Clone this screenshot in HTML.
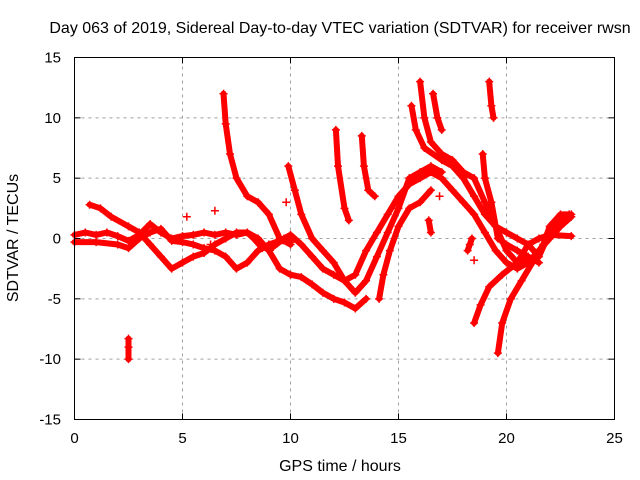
<!DOCTYPE html>
<html><head><meta charset="utf-8"><style>
body{margin:0;background:#fff}
svg{display:block;font-family:"Liberation Sans",sans-serif}
</style></head><body>
<svg id="chart" width="640" height="480" viewBox="0 0 640 480">
<rect width="640" height="480" fill="#fff"/>
<text x="340" y="33" font-size="16" text-anchor="middle">Day 063 of 2019, Sidereal Day-to-day VTEC variation (SDTVAR) for receiver rwsn</text>
<g id="grid"></g>
<g id="marks"></g>
<rect x="74.5" y="57.5" width="540" height="362" fill="none" stroke="#000" stroke-width="1"/>
<g id="ticks"></g>
<text x="340" y="471" font-size="16" text-anchor="middle">GPS time / hours</text>
<text transform="translate(18,238) rotate(-90)" font-size="16" text-anchor="middle">SDTVAR / TECUs</text>
</svg>
<script>
const xTicks=[0,5,10,15,20,25];
const yTicks=[-15,-10,-5,0,5,10,15];
const t1x=[0,0.5,1,1.5,2,2.5,3,3.5,4,4.5,5,5.5,6,6.5,7,7.5,8,8.3,8.7,9.2,9.7,10,10.5,11,11.5,12,12.5,13,13.5,14,14.5,15,15.5,16,16.5,17,17.5,18,18.5,19,19.5,20,20.5,21,21.5,22,22.5,23];
const t1y=[0.3,0.5,0.3,0.5,0.2,-0.2,0.3,1.2,0.5,0,0.2,0.3,0.5,0.3,0.5,0.3,0.5,0,-0.8,-0.7,0,0.3,-0.5,-1.5,-2.5,-3,-3.5,-3,-1,0.5,2,3.5,4.5,5,5.5,5,4,3,2,0.5,-1,-2,-2.5,-2,-1,0,1,1.8];
const t2x=[0,1,2,2.5,3,3.5,4,4.5,5,5.5,6,6.5,7,7.5,8,8.5,9,9.5,10];
const t2y=[-0.3,-0.3,-0.5,-0.8,0,0.5,0.8,-0.2,-0.3,-0.5,-0.8,-1,-1.5,-2.5,-2,-1,-0.5,-0.2,-0.3];
const t3x=[0.7,1.2,1.7,2.5,3,3.5,4,4.5,5,5.5,6,6.5,7,7.5,8,8.5,9,9.5,10,10.5,11,11.5,12,12.5,13,13.5];
const t3y=[2.8,2.5,1.8,1,0.5,-0.5,-1.5,-2.5,-2,-1.5,-1.2,-0.5,0,0.5,0.5,0,-1,-2.5,-3,-3.2,-3.8,-4.5,-5,-5.3,-5.8,-5];
const t4x=[9.9,10.2,10.5,11,11.5,12,12.5,13,13.5,14,14.5,15,15.5,16,16.5,17];
const t4y=[6,4,2,0,-1,-2,-3.5,-4.5,-3.5,-1.5,0.5,2.5,5,5.5,6,5.5];
const t5x=[6.9,7,7.2,7.5,8,8.5,9,9.5,10];
const t5y=[12,9.5,7,5,3.5,3,2,0,-0.5];
const t6x=[12.1,12.2,12.5,12.7];const t6y=[9,6,2.5,1.5];
const t7x=[13.3,13.4,13.6,13.9];const t7y=[8.5,6,4,3.5];
const t8x=[15.6,15.8,16.2,17,17.5,18,18.5,19,19.5,20,20.5,21,21.5,22,22.5,23];
const t8y=[11,9,7.5,6.5,6,5,3.5,2,1,0.5,0,-0.5,-1.5,0.5,1.5,2];
const t9x=[16,16.2,16.5,17,17.5,18,18.5,19,19.5,20,20.5,21];
const t9y=[13,10,8,7,6.5,5.5,5,3,1,-1,-2,-1.5];
const t10x=[16.6,16.8,17];const t10y=[12,10,9];
const t11x=[19.2,19.3,19.4];const t11y=[13,11,10];
const t12x=[18.9,19,19.3,19.6,20,20.5,21,21.5];const t12y=[7,5,3,0,-0.5,-1,-1.5,-2];
const t13x=[19.6,19.8,20.2,20.7,21.2,21.7,22,22.5,22.9];const t13y=[-9.5,-7,-5,-3.5,-2,-0.5,1,2,2];
const t14x=[18.5,18.8,19.2,19.8,20.5,21,21.5,22,23];const t14y=[-7,-5.5,-4,-3,-2,-0.5,0,0.3,0.2];
const t15x=[14.1,14.3,14.6,15,15.5,16,16.5];const t15y=[-5,-3,-1,1,2.5,3,4];
const c1x=[2.5,2.5,2.5];const c1y=[-8.3,-9,-10];
const c2x=[18.2,18.3,18.4];const c2y=[-1,-0.5,0];
const c3x=[16.4,16.5];const c3y=[1.5,0.5];
const isoX=[6.5,5.2,16.9,18.5,9.8,6.3];const isoY=[2.3,1.8,3.5,-1.8,3,-0.5];

const X0=74.5,X1=614.5,Y0=419.5,Y1=57.5;
const sx=v=>X0+(v-0)/25*(X1-X0);
const sy=v=>Y0-(v+15)/30*(Y0-Y1);
const NS="http://www.w3.org/2000/svg";
const grid=document.getElementById('grid'),ticks=document.getElementById('ticks'),marks=document.getElementById('marks');
function mk(tag,attrs,parent){const e=document.createElementNS(NS,tag);for(const k in attrs)e.setAttribute(k,attrs[k]);parent.appendChild(e);return e;}
xTicks.forEach(v=>{
  const x=sx(v);
  if(v>0&&v<25){const g=mk('line',{x1:x,x2:x,y1:Y0,y2:Y1,stroke:'#a0a0a0','stroke-dasharray':'3,4'},grid);
  
  }
  const a=mk('line',{x1:x,x2:x,y1:Y0,y2:Y0-6,stroke:'#000'},ticks);
  
  
  const b=mk('line',{x1:x,x2:x,y1:Y1,y2:Y1+6,stroke:'#000'},ticks);
  
  
  const t=mk('text',{x:x,y:443,'font-size':15,'text-anchor':'middle'},ticks);t.textContent=v;
  
  
});
yTicks.forEach(v=>{
  const y=sy(v);
  if(v>-15&&v<15){const g=mk('line',{x1:X0,x2:X1,y1:y,y2:y,stroke:'#a0a0a0','stroke-dasharray':'3,4'},grid);
  
  }
  const a=mk('line',{x1:X0,x2:X0+6,y1:y,y2:y,stroke:'#000'},ticks);
  
  
  const b=mk('line',{x1:X1,x2:X1-6,y1:y,y2:y,stroke:'#000'},ticks);
  
  
  const t=mk('text',{x:61,y:y+5,'font-size':15,'text-anchor':'end'},ticks);t.textContent=v;
  
  
});
const tracks=[[t1x,t1y],[t2x,t2y],[t3x,t3y],[t4x,t4y],[t5x,t5y],[t6x,t6y],[t7x,t7y],[t8x,t8y],[t9x,t9y],[t10x,t10y],[t11x,t11y],[t12x,t12y],[t13x,t13y],[t14x,t14y],[t15x,t15y],[c1x,c1y],[c2x,c2y],[c3x,c3y]];
tracks.forEach(([xs,ys])=>{
  const d=xs.map((v,i)=>(i?'L':'M')+sx(v).toFixed(1)+','+sy(ys[i]).toFixed(1)).join('');
  const p=mk('path',{d:d,fill:'none',stroke:'#f00','stroke-width':6,'stroke-linejoin':'round','stroke-linecap':'round'},marks);
  
  
  xs.forEach((v,i)=>{
    const x=sx(v),y=sy(ys[i]);
    const m=mk('path',{d:`M${x-4},${y}H${x+4}M${x},${y-4}V${y+4}`,stroke:'#f00','stroke-width':1.5},marks);
    
    
  });
});
isoX.forEach((v,i)=>{
  const x=sx(v),y=sy(isoY[i]);
  const m=mk('path',{d:`M${x-4},${y}H${x+4}M${x},${y-4}V${y+4}`,stroke:'#f00','stroke-width':1.5},marks);
  
  
});
</script>
</body></html>
